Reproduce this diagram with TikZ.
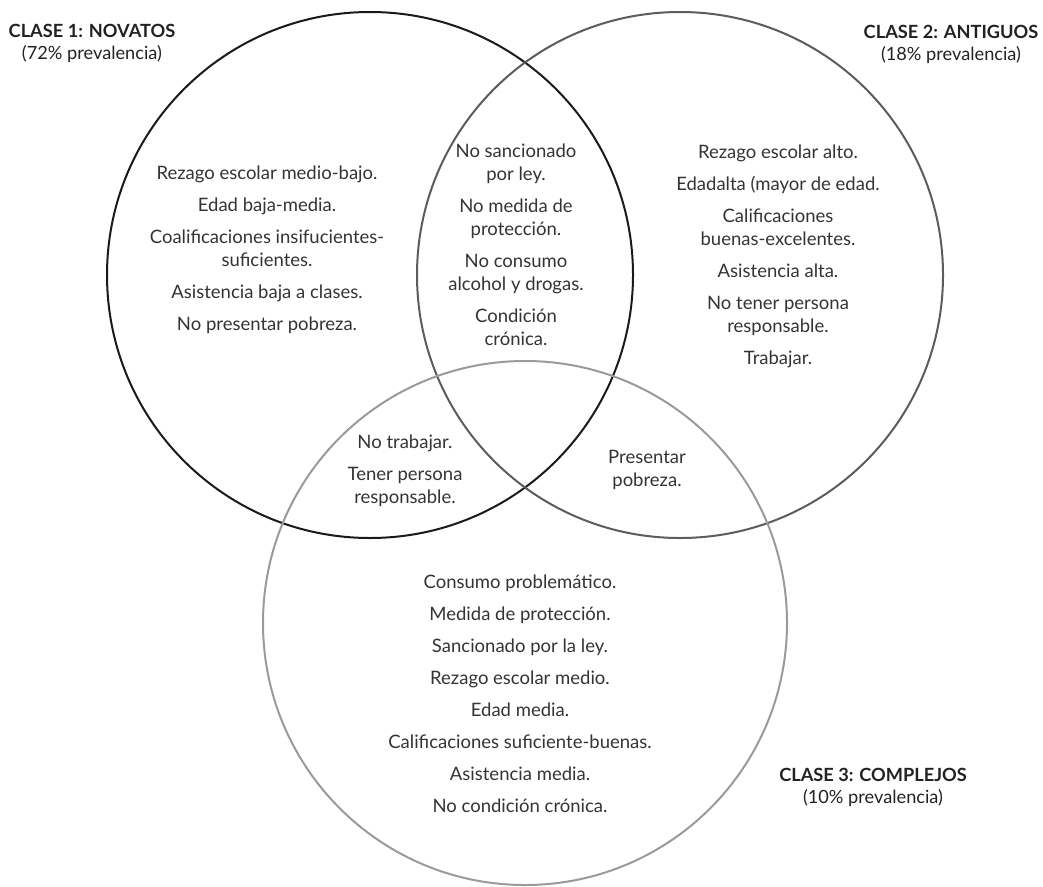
\documentclass[tikz,border=0pt]{standalone}
\usepackage{fontspec}
\setmainfont{Lato}
\definecolor{txtgray}{HTML}{333333}
\definecolor{headgray}{HTML}{222222}
\definecolor{cone}{HTML}{1A1A1A}
\definecolor{ctwo}{HTML}{5C5C5C}
\definecolor{cthree}{HTML}{9A9A9A}
\begin{document}
\begin{tikzpicture}[x=1pt,y=-1pt,
  txt/.style={align=center, inner sep=0pt, text=txtgray, font=\fontsize{18.5}{23}\selectfont},
  head/.style={align=center, inner sep=0pt, text=headgray, font=\fontsize{18.2}{22}\selectfont},
  ring/.style={line width=2pt}]
\useasboundingbox (0,0) rectangle (1043,886);
% circles
\draw[ring, draw=cone]   (370,275) circle [radius=263pt];
\draw[ring, draw=ctwo]   (680,275) circle [radius=263pt];
\draw[ring, draw=cthree] (525,623) circle [radius=262pt];
% headings
\node[head] (h1) at (92,43) {\textbf{CLASE 1: NOVATOS}\\(72\% prevalencia)};
\node[head] (h2) at (951,44) {\textbf{CLASE 2: ANTIGUOS}\\(18\% prevalencia)};
\node[head] (h3) at (873,787) {\textbf{CLASE 3: COMPLEJOS}\\(10\% prevalencia)};
% region texts
\node[txt] (r1) at (267,250) {Rezago escolar medio-bajo.\\[9pt]
  Edad baja-media.\\[9pt]
  Coalificaciones insifucientes-\\suficientes.\\[9pt]
  Asistencia baja a clases.\\[9pt]
  No presentar pobreza.};
\node[txt] (r12) at (516,245) {No sancionado\\por ley.\\[9pt]
  No medida de\\protección.\\[9pt]
  No consumo\\alcohol y drogas.\\[9pt]
  Condición\\crónica.};
\node[txt] (r2) at (778,256) {Rezago escolar alto.\\[9pt]
  Edadalta (mayor de edad.\\[9pt]
  Calificaciones\\buenas-excelentes.\\[9pt]
  Asistencia alta.\\[9pt]
  No tener persona\\responsable.\\[9pt]
  Trabajar.};
\node[txt] (r13) at (405,471) {No trabajar.\\[9pt]
  Tener persona\\responsable.};
\node[txt] (r23) at (647,470) {Presentar\\pobreza.};
\node[txt] (r3) at (520,694) {Consumo problemático.\\[9pt]
  Medida de protección.\\[9pt]
  Sancionado por la ley.\\[9pt]
  Rezago escolar medio.\\[9pt]
  Edad media.\\[9pt]
  Calificaciones suficiente-buenas.\\[9pt]
  Asistencia media.\\[9pt]
  No condición crónica.};
\end{tikzpicture}
\end{document}
